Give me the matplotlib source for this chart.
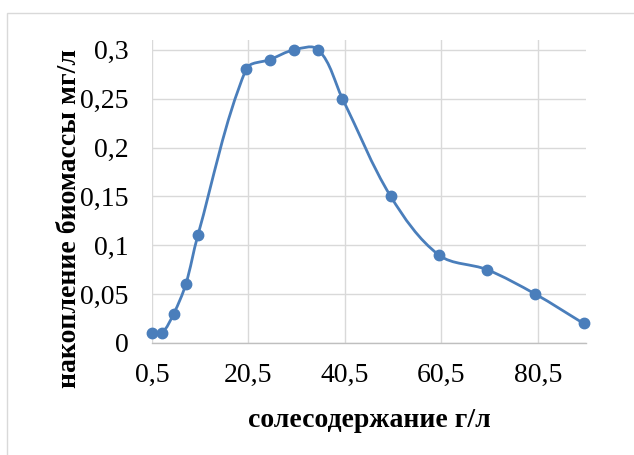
import numpy as np
import matplotlib
matplotlib.use("Agg")
import matplotlib.pyplot as plt
from matplotlib.path import Path
from matplotlib.patches import PathPatch, Rectangle

# Data
salt = [0.5, 2.5, 5, 7.5, 10, 20, 25, 30, 35, 40, 50, 60, 70, 80, 90]
biomass = [0.01, 0.01, 0.03, 0.06, 0.11, 0.28, 0.29, 0.30, 0.30, 0.25, 0.15, 0.09, 0.075, 0.05, 0.02]
x_ticks = [0.5, 20.5, 40.5, 60.5, 80.5]
y_ticks = [0, 0.05, 0.1, 0.15, 0.2, 0.25, 0.3]
x_label = "солесодержание г/л"
y_label = "накопление биомассы мг/л"

def fmt(v):
    s = f"{v:g}"
    return s.replace(".", ",")

color = "#4A7EBB"
grid_c = "#D9D9D9"
serif = "Liberation Serif"

fig = plt.figure(figsize=(6.34, 4.55), dpi=100)
fig.patches.append(Rectangle((7/634, -0.1), 1.2, 1.1 - 13/455, transform=fig.transFigure,
                             fill=False, edgecolor=grid_c, linewidth=1.0))
ax = fig.add_axes([152/634, 1 - 343/455, (586-152)/634, (343-40)/455])
ax.set_xlim(0.5, 90.5)
ax.set_ylim(0, 0.31)

for s in ["top", "right", "left"]:
    ax.spines[s].set_visible(False)
ax.spines["bottom"].set_color("#BFBFBF")
ax.spines["bottom"].set_linewidth(1.0)

ax.set_xticks(x_ticks)
ax.set_yticks(y_ticks)
ax.set_xticklabels([fmt(v) for v in x_ticks])
ax.set_yticklabels([fmt(v) for v in y_ticks])
ax.tick_params(length=0, labelsize=20)
ax.tick_params(axis="y", pad=17)
ax.tick_params(axis="x", pad=14)
for lab in ax.get_xticklabels() + ax.get_yticklabels():
    lab.set_fontfamily(serif)
ax.grid(True, color=grid_c, linewidth=1.0)
ax.set_axisbelow(True)

ax.set_xlabel(x_label, fontfamily=serif, fontweight="bold", fontsize=20)
ax.xaxis.label.set_va("baseline")
ax.xaxis.set_label_coords(0.502, (343 - 427) / 303)
ax.set_ylabel(y_label, fontfamily=serif, fontweight="bold", fontsize=20)
ax.yaxis.label.set_va("baseline")
ax.yaxis.set_label_coords((76 - 152) / 434, (343 - 219) / 303)

# Excel-like smoothed line (chord-length weighted cardinal spline -> cubic Bezier)
fig.canvas.draw()
pts = ax.transData.transform(np.column_stack([salt, biomass]))
n = len(pts)

def tangent(i):
    p0 = pts[i - 1] if i > 0 else pts[i]
    p2 = pts[i + 1] if i < n - 1 else pts[i]
    d = p2 - p0
    L = np.hypot(*d)
    return d / L if L > 0 else d

verts = [pts[0]]
codes = [Path.MOVETO]
for i in range(n - 1):
    p1, p2 = pts[i], pts[i + 1]
    seg = np.hypot(*(p2 - p1))
    c1 = p1 + tangent(i) * seg / 3.0
    c2 = p2 - tangent(i + 1) * seg / 3.0
    verts += [c1, c2, p2]
    codes += [Path.CURVE4] * 3
verts = ax.transData.inverted().transform(np.array(verts))
ax.add_patch(PathPatch(Path(verts, codes), fill=False, edgecolor=color, linewidth=2.0,
                       capstyle="round", joinstyle="round", zorder=3))
ax.plot(salt, biomass, linestyle="none", marker="o", markersize=7.5, color=color, zorder=4,
        clip_on=False)

fig.savefig("out.png", dpi=100)
